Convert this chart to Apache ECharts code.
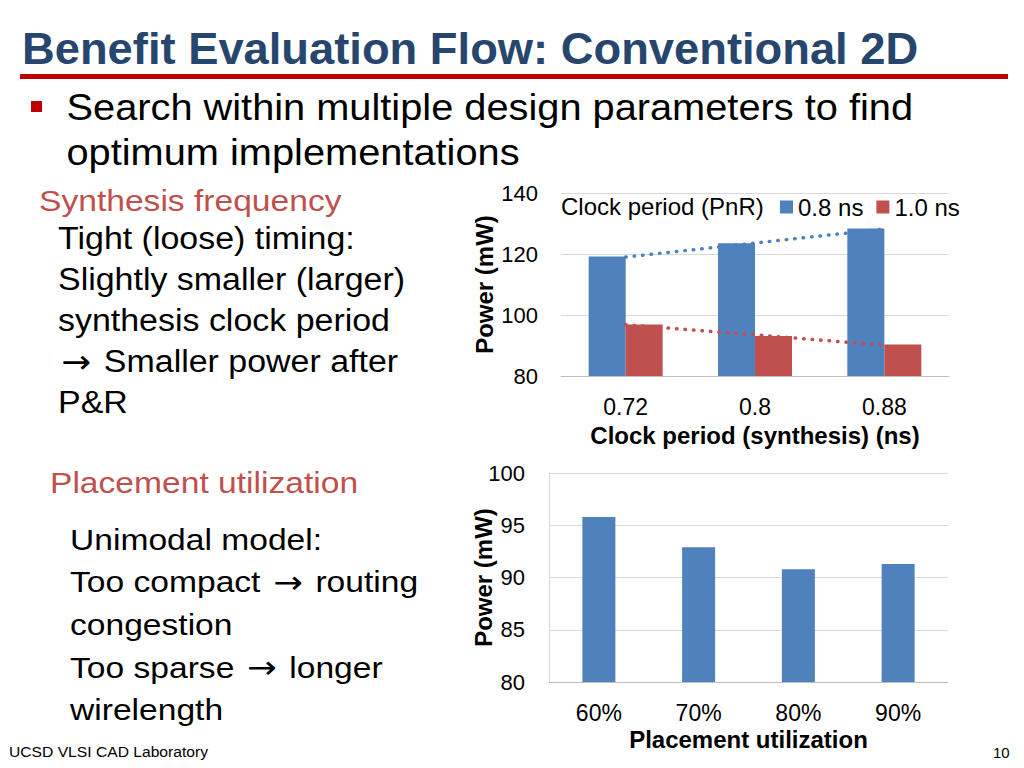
<!DOCTYPE html>
<html>
<head>
<meta charset="utf-8">
<style>
  html, body { margin: 0; padding: 0; background: #ffffff; }
  #chart { width: 1024px; height: 768px; }
</style>
<script src="https://cdn.jsdelivr.net/npm/echarts@6/dist/echarts.min.js"></script>
</head>
<body>
<div id="chart"></div>
<script>
// ---------- data ----------
const clockCats = ['0.72', '0.8', '0.88'];
const power08 = [119.2, 123.5, 128.4];
const power10 = [96.9, 93.1, 90.3];
const trend08 = [119.0, 123.6, 128.2];
const trend10 = [96.8, 93.5, 90.1];
const seriesNames = ['0.8 ns', '1.0 ns'];

const utilCats = ['60%', '70%', '80%', '90%'];
const utilPower = [95.8, 92.9, 90.8, 91.3];

const titleText = 'Benefit Evaluation Flow: Conventional 2D';
const bulletLines = ['Search within multiple design parameters to find', 'optimum implementations'];
const head1 = 'Synthesis frequency';
const block1 = ['Tight (loose) timing:', 'Slightly smaller (larger)', 'synthesis clock period', '\u2192 Smaller power after', 'P&R'];
const head2 = 'Placement utilization';
const block2 = ['Unimodal model:', 'Too compact \u2192 routing', 'congestion', 'Too sparse \u2192 longer', 'wirelength'];
const footer = 'UCSD VLSI CAD Laboratory';
const pageNo = '10';

// ---------- style ----------
const FF = '"Liberation Sans", Arial, Helvetica, sans-serif';
const BLUE = '#4F81BD', RED = '#C0504D', DARKRED = '#C00000';
const GRID = '#D9D9D9', AXIS = '#BFBFBF';

function txt(str, x, baseline, size, opts) {
  opts = opts || {};
  const hasArrow = str.indexOf('\u2192') >= 0;
  const style = {
    text: hasArrow ? str.split('\u2192').join('{a|\u2192}') : str,
    fill: opts.color || '#000',
    font: (opts.bold ? 'bold ' : '') + size + 'px ' + FF,
    align: 'left', verticalAlign: 'middle'
  };
  if (hasArrow) {
    style.rich = {a: {font: (size * 1.05) + 'px "DejaVu Sans", sans-serif',
                      fill: opts.color || '#000', padding: [0, 3, 0, 3]}};
  }
  return {
    type: 'text', x: x, y: baseline - size * 0.36, scaleX: opts.sx || 1,
    z: 100, style: style
  };
}

const graphics = [];
graphics.push(txt(titleText, 22, 65, 44, {bold: true, color: '#27466D', sx: 1.03}));
graphics.push({type: 'rect', shape: {x: 20, y: 74, width: 988, height: 5}, style: {fill: DARKRED}, z: 100});
graphics.push({type: 'rect', shape: {x: 31, y: 101, width: 11, height: 11}, style: {fill: DARKRED}, z: 100});
bulletLines.forEach((s, i) => graphics.push(txt(s, 66.5, 121 + i * 45, 36, {sx: 1.105})));
graphics.push(txt(head1, 39, 211.7, 30, {color: RED, sx: 1.12}));
block1.forEach((s, i) => graphics.push(txt(s, 58, 249.5 + i * 41, 31, {sx: 1.095})));
graphics.push(txt(head2, 50, 493.3, 30, {color: RED, sx: 1.12}));
block2.forEach((s, i) => graphics.push(txt(s, 70, 550 + i * 42.7, 30, {sx: 1.12})));
graphics.push(txt(footer, 9, 757.3, 15.5, {sx: 1.01}));
graphics.push(txt(pageNo, 993, 758.3, 15, {}));
graphics.push(txt('Clock period (PnR)', 561, 215, 24, {}));

const chart = echarts.init(document.getElementById('chart'), null, {renderer: 'svg'});

const option = {
  animation: false,
  backgroundColor: '#ffffff',
  textStyle: {fontFamily: FF},
  graphic: graphics,
  legend: {
    data: seriesNames,
    left: 780, top: 195,
    itemWidth: 13, itemHeight: 13, itemGap: 13,
    icon: 'rect',
    textStyle: {fontSize: 24, color: '#000', fontFamily: FF, padding: [0, 0, 0, 0]},
    padding: 0
  },
  grid: [
    {left: 561, right: 75, top: 193, height: 183},
    {left: 549, right: 76, top: 473, height: 209}
  ],
  xAxis: [
    {
      type: 'category', gridIndex: 0, data: clockCats,
      axisLine: {show: true, lineStyle: {color: AXIS, width: 1}},
      axisTick: {show: false},
      axisLabel: {fontSize: 23, color: '#000', margin: 19, fontFamily: FF},
      name: 'Clock period (synthesis) (ns)', nameLocation: 'middle', nameGap: 47,
      nameMoveOverlap: false,
      nameTextStyle: {fontSize: 24, fontWeight: 'bold', color: '#000', fontFamily: FF}
    },
    {
      type: 'category', gridIndex: 1, data: utilCats,
      axisLine: {show: true, lineStyle: {color: AXIS, width: 1}},
      axisTick: {show: false},
      axisLabel: {fontSize: 23, color: '#000', margin: 19, fontFamily: FF},
      name: 'Placement utilization', nameLocation: 'middle', nameGap: 45,
      nameMoveOverlap: false,
      nameTextStyle: {fontSize: 24, fontWeight: 'bold', color: '#000', fontFamily: FF}
    }
  ],
  yAxis: [
    {
      type: 'value', gridIndex: 0, min: 80, max: 140, interval: 20,
      axisLine: {show: false}, axisTick: {show: false},
      splitLine: {lineStyle: {color: GRID, width: 1}},
      axisLabel: {fontSize: 22, color: '#000', margin: 23, fontFamily: FF},
      name: 'Power (mW)', nameLocation: 'middle', nameGap: 65, nameRotate: 90,
      nameMoveOverlap: false,
      nameTextStyle: {fontSize: 24, fontWeight: 'bold', color: '#000', fontFamily: FF}
    },
    {
      type: 'value', gridIndex: 1, min: 80, max: 100, interval: 5,
      axisLine: {show: true, lineStyle: {color: GRID, width: 1}}, axisTick: {show: false},
      splitLine: {lineStyle: {color: GRID, width: 1}},
      axisLabel: {fontSize: 22, color: '#000', margin: 24, fontFamily: FF},
      name: 'Power (mW)', nameLocation: 'middle', nameGap: 54, nameRotate: 90,
      nameMoveOverlap: false,
      nameTextStyle: {fontSize: 24, fontWeight: 'bold', color: '#000', fontFamily: FF}
    }
  ],
  series: [
    {name: seriesNames[0], type: 'bar', xAxisIndex: 0, yAxisIndex: 0, data: power08,
     barWidth: 37, barGap: '0%', itemStyle: {color: BLUE}},
    {name: seriesNames[1], type: 'bar', xAxisIndex: 0, yAxisIndex: 0, data: power10,
     barWidth: 37, barGap: '0%', itemStyle: {color: RED}},
    {name: 'trend08', type: 'line', xAxisIndex: 0, yAxisIndex: 0, data: trend08,
     symbol: 'none', z: 5, lineStyle: {color: BLUE, width: 3.5, type: [0.5, 8], cap: 'round'}},
    {name: 'trend10', type: 'line', xAxisIndex: 0, yAxisIndex: 0, data: trend10,
     symbol: 'none', z: 5, lineStyle: {color: RED, width: 3.5, type: [0.5, 8], cap: 'round'}},
    {name: 'util', type: 'bar', xAxisIndex: 1, yAxisIndex: 1, data: utilPower,
     barWidth: 33, itemStyle: {color: BLUE}}
  ]
};
chart.setOption(option);
</script>
</body>
</html>
